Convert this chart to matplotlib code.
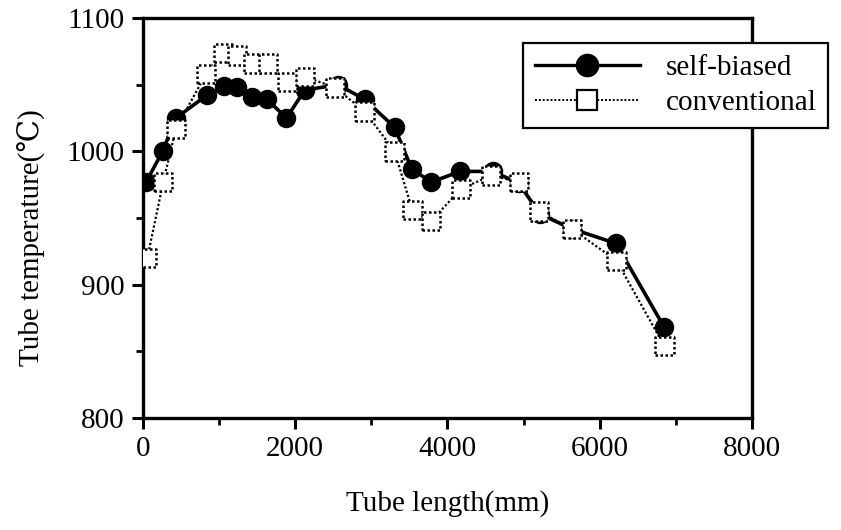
import matplotlib
matplotlib.use("Agg")
import matplotlib.pyplot as plt
from matplotlib.lines import Line2D
from matplotlib.legend_handler import HandlerTuple
from matplotlib.ticker import MultipleLocator

plt.rcParams['font.family'] = ['Liberation Serif', 'DejaVu Serif']

length_self = [40, 258, 433, 836, 1067, 1238, 1426, 1631, 1885, 2126, 2563, 2913,
               3307, 3530, 3785, 4170, 4600, 4939, 5215, 5634, 6216, 6850]
temp_self = [977, 1000, 1025, 1042, 1049, 1048, 1041, 1039, 1025, 1046, 1050, 1039,
             1018, 987, 977, 985, 985, 976, 953, 942, 931, 868]

length_conv = [57, 266, 433, 827, 1054, 1238, 1448, 1645, 1899, 2126, 2520, 2913,
               3307, 3539, 3788, 4182, 4576, 4939, 5201, 5634, 6224, 6850]
temp_conv = [920, 977, 1017, 1058, 1074, 1072, 1066, 1066, 1052, 1056, 1048, 1030,
             1000, 956, 948, 972, 982, 977, 955, 942, 918, 854]

xticks = [0, 2000, 4000, 6000, 8000]
yticks = [800, 900, 1000, 1100]

fig = plt.figure(figsize=(8.41, 5.30), dpi=100)
ax = fig.add_axes([0.170, 0.211, 0.724, 0.755])

ax.plot(length_self, temp_self, color='black', lw=2.6, marker='o', ms=13,
        mfc='black', mec='black', zorder=3)
ax.plot(length_conv, temp_conv, color='black', lw=1.6, ls=(0, (1, 1)), zorder=4)
ax.scatter(length_conv, temp_conv, marker='s', s=175, facecolors='white',
           edgecolors='black', linewidths=1.8, linestyles=(0, (1, 1)), zorder=5)

ax.set_xlim(0, 8000)
ax.set_ylim(800, 1100)
ax.set_xticks(xticks)
ax.set_yticks(yticks)
ax.xaxis.set_minor_locator(MultipleLocator(1000))
ax.yaxis.set_minor_locator(MultipleLocator(50))
ax.tick_params(which='major', direction='out', length=8, width=2.2, labelsize=21, pad=5)
ax.tick_params(which='minor', direction='out', length=5, width=2)
for s in ax.spines.values():
    s.set_linewidth(2.4)

ax.set_xlabel('Tube length(mm)', fontsize=21, labelpad=20)
ax.set_ylabel('Tube temperature(℃)', fontsize=21)
ax.yaxis.set_label_coords(-0.16, 0.45)

h_self = Line2D([], [], color='black', lw=2.4, marker='o', ms=16, mfc='black', mec='black')
h_conv_line = Line2D([], [], color='black', lw=1.4, ls=(0, (1, 1)))
h_conv_mk = Line2D([], [], ls='none', marker='s', ms=15, mfc='white', mec='black', mew=1.6)
leg = ax.legend([h_self, (h_conv_line, h_conv_mk)], ['self-biased', 'conventional'],
                handler_map={tuple: HandlerTuple(ndivide=1, pad=0)},
                loc='upper left', bbox_to_anchor=(523 / 841, 1 - 43 / 530),
                bbox_transform=fig.transFigure, borderaxespad=0, fontsize=21,
                frameon=True, fancybox=False, edgecolor='black', framealpha=1,
                handlelength=3.6, handletextpad=0.9, borderpad=0.4, labelspacing=0.3)
leg.get_frame().set_linewidth(1.6)
leg.set_zorder(10)

fig.savefig('out.png', dpi=100)
